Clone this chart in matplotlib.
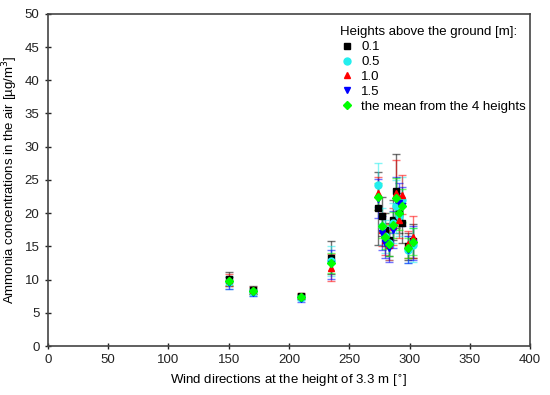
import numpy as np
import matplotlib
matplotlib.use('Agg')
import matplotlib.pyplot as plt

plt.rcParams['font.family'] = ['Liberation Sans', 'DejaVu Sans']

# wind directions [deg]
direcoes = [150, 170, 210, 235, 274, 277, 280, 283, 286, 289, 291, 294, 299, 303]

# concentrations per height
h01 = [10.1, 8.5, 7.5, 13.3, 20.7, 19.5, 17.5, 16.0, 19.0, 23.3, 20.0, 18.5, 15.0, 15.8]
h05 = [9.6, 8.1, 7.3, 12.8, 24.2, 18.0, 16.5, 15.5, 18.5, 21.0, 19.5, 22.0, 14.5, 15.2]
h10 = [9.9, 8.4, 7.6, 11.8, 23.0, 17.5, 16.0, 15.2, 18.0, 23.0, 19.0, 22.8, 15.3, 16.4]
h15 = [9.5, 8.0, 7.1, 12.3, 22.2, 17.0, 15.5, 14.8, 17.5, 22.0, 21.5, 21.0, 14.5, 15.5]
media = [9.8, 8.25, 7.4, 12.5, 22.5, 18.0, 16.4, 15.4, 18.2, 22.3, 20.0, 21.1, 14.8, 15.7]

# error bars
e01 = [1.0, 0.6, 0.4, 2.5, 5.5, 3.0, 2.5, 2.5, 3.0, 5.6, 3.0, 3.0, 2.0, 2.5]
e05 = [1.0, 0.6, 0.4, 2.3, 3.3, 2.8, 2.5, 2.5, 3.0, 4.0, 3.0, 3.5, 2.0, 2.5]
e10 = [0.9, 0.5, 0.4, 2.0, 2.5, 2.5, 2.3, 2.2, 2.8, 5.0, 2.8, 3.0, 2.0, 3.2]
e15 = [0.9, 0.5, 0.4, 2.2, 3.0, 2.5, 2.3, 2.2, 2.8, 3.5, 3.0, 3.0, 2.0, 2.5]
emed = [0.6, 0.4, 0.3, 1.5, 2.0, 1.8, 1.8, 1.8, 2.0, 3.0, 2.5, 2.5, 1.5, 2.0]

series = [
    (h01, e01, 's', 'black', '0.1'),
    (h05, e05, 'o', '#22eeee', '0.5'),
    (h10, e10, '^', 'red', '1.0'),
    (h15, e15, 'v', 'blue', '1.5'),
    (media, emed, 'D', '#00ff00', 'the mean from the 4 heights'),
]

fig = plt.figure(figsize=(5.5, 3.95), dpi=100)
ax = fig.add_axes([0.087, 0.124, 0.877, 0.841])

for y, e, m, c, lab in series:
    ax.errorbar(direcoes, y, yerr=e, fmt='none', ecolor=c, alpha=0.55,
                elinewidth=1, capsize=3, capthick=1)
for y, e, m, c, lab in series:
    ax.plot(direcoes, y, linestyle='none', marker=m, color=c,
            markersize=5 if m != 'D' else 4.5, label=lab)

ax.set_xlim(0, 400)
ax.set_ylim(0, 50)
ax.set_xticks(np.arange(0, 401, 50))
ax.set_yticks(np.arange(0, 51, 5))
ax.tick_params(direction='inout', length=5, width=1, labelsize=9.5, colors='#222222')
for s in ax.spines.values():
    s.set_color('#444444')
    s.set_linewidth(1.2)

ax.set_xlabel('Wind directions at the height of 3.3 m [$^{\\circ}$]', fontsize=9.5, labelpad=5)
ax.set_ylabel('Ammonia concentrations in the air [µg/m$^{3}$]', fontsize=9.5, labelpad=3)

leg = ax.legend(title='Heights above the ground [m]:', loc='upper right',
                frameon=False, fontsize=9.5, title_fontsize=9.5, handletextpad=0.6,
                handlelength=1.0, labelspacing=0.2, borderaxespad=0.3,
                bbox_to_anchor=(1.01, 0.99))
leg._legend_box.align = 'left'

plt.savefig('out.png', dpi=100)
